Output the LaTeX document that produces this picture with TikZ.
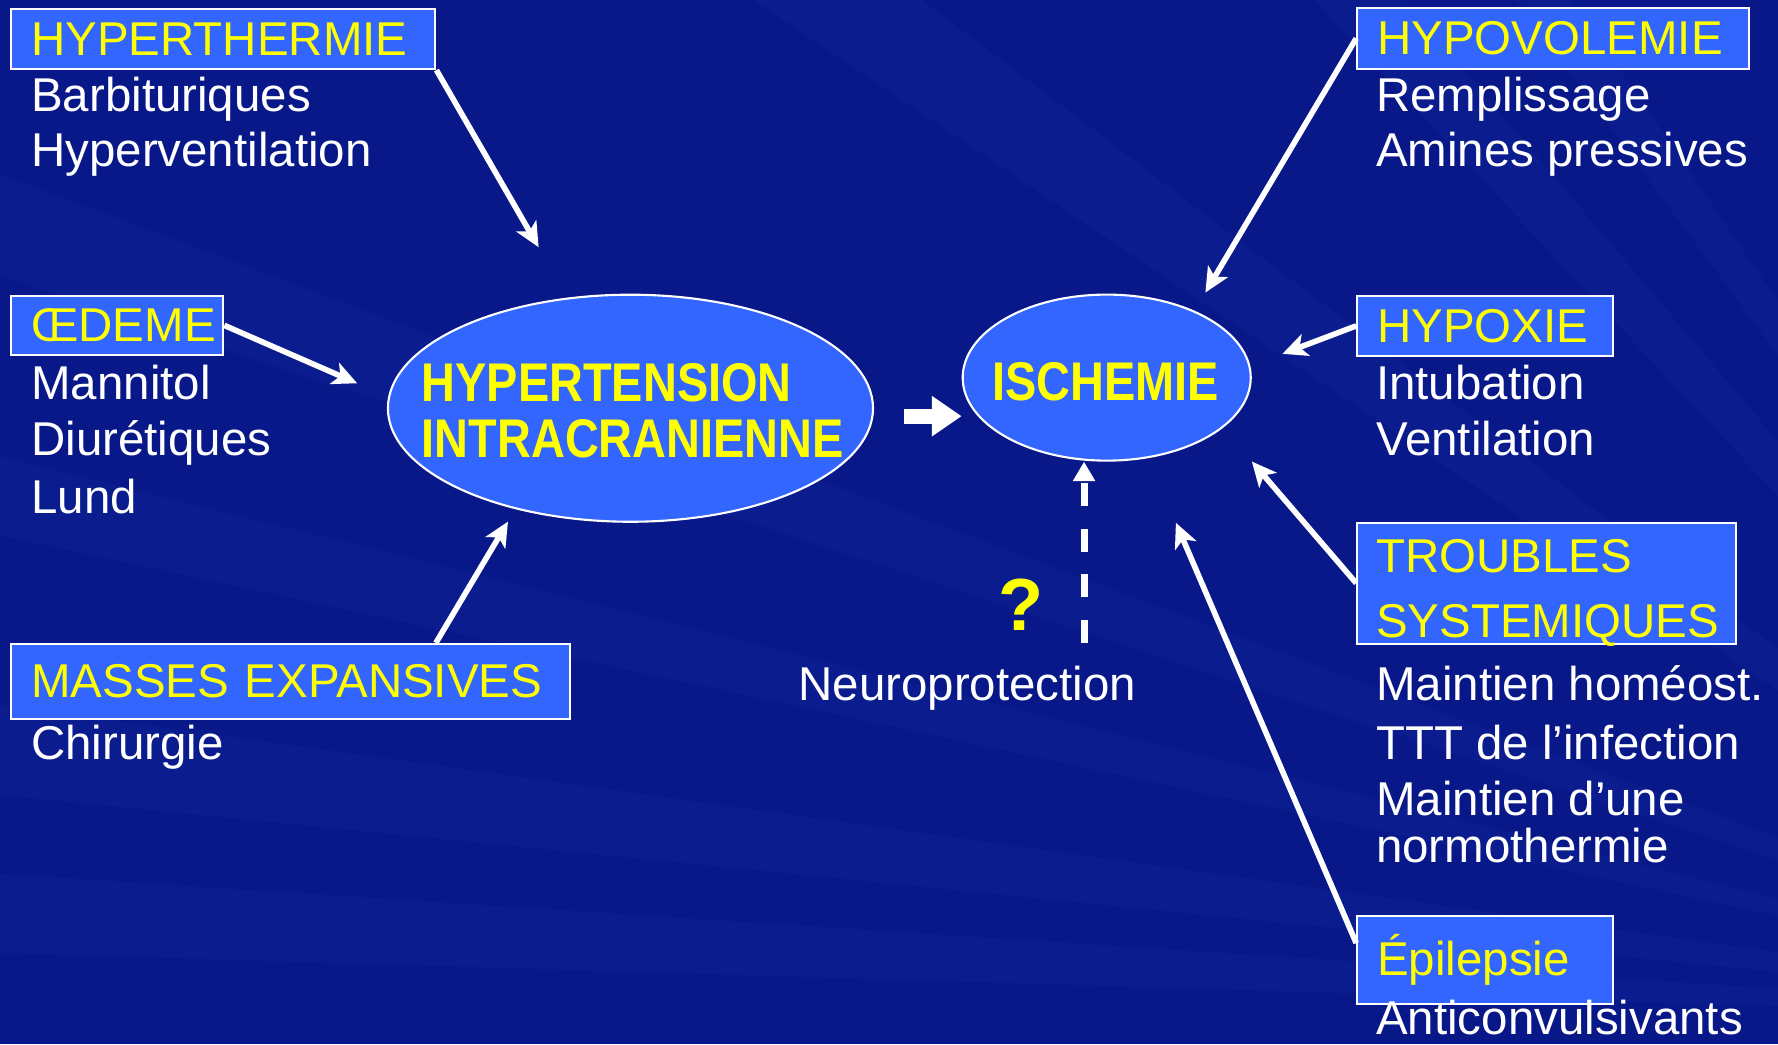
\documentclass[tikz,border=0pt]{standalone}
\usepackage{fontspec}
\setmainfont{Liberation Sans}
\newfontfamily\narrowfont[FakeStretch=0.86]{Liberation Sans}
\usetikzlibrary{shapes.geometric,arrows.meta,positioning}

\definecolor{slidebg}{HTML}{081888}
\definecolor{raylight}{HTML}{3A5AE0}
\definecolor{boxblue}{HTML}{3366FF}
\definecolor{titleyellow}{HTML}{FFFF00}

\tikzset{
  headbox/.style={draw=white, line width=0.6pt, fill=boxblue, text=titleyellow,
    anchor=north west, align=left, inner xsep=0.2cm, inner ysep=0pt,
    font=\fontsize{13.5}{16.1}\selectfont},
  subtext/.style={text=white, anchor=base west, inner sep=0pt,
    font=\fontsize{13.5}{16.1}\selectfont},
  bubble/.style={ellipse, draw=white, line width=0.6pt, fill=boxblue, inner sep=0pt},
  bubbletext/.style={text=titleyellow, align=left, inner sep=0pt,
    font=\narrowfont\bfseries\fontsize{15.5}{15.8}\selectfont},
  arr/.style={white, line width=1.6pt, -{Stealth[length=7pt,width=6.5pt,inset=1.8pt]}},
}

\begin{document}
\begin{tikzpicture}[x=0.011339cm, y=-0.011339cm]
    \useasboundingbox (0,0) rectangle (1568,921);

    % Background
    \fill[slidebg] (0,0) rectangle (1568,921);
    \begin{scope}
        \clip (0,0) rectangle (1568,921);
        \foreach \ya/\yb in {150/240, 400/470, 620/700, 770/840}
            \fill[raylight, opacity=0.08] (2000,900) -- (-10,\ya) -- (-10,\yb) -- cycle;
        \foreach \xa/\xb in {650/800, 1150/1230, 1330/1380}
            \fill[raylight, opacity=0.08] (2000,900) -- (\xa,-10) -- (\xb,-10) -- cycle;
    \end{scope}

    % Left column
    \node[headbox, text width=3.84cm, minimum height=0.6cm] (hyperth) at (9,7) {HYPERTHERMIE};
    \node[subtext] (barbi) at (27,98) {Barbituriques};
    \node[subtext] (hypervent) at (27,147) {Hyperventilation};

    \node[headbox, text width=1.72cm, minimum height=0.59cm] (oedeme) at (9,260) {ŒDEME};
    \node[subtext] (mannitol) at (27,352) {Mannitol};
    \node[subtext] (diuret) at (27,402) {Diurétiques};
    \node[subtext] (lund) at (27,453) {Lund};

    \node[headbox, text width=5.19cm, minimum height=0.75cm] (masses) at (9,567) {MASSES EXPANSIVES};
    \node[subtext] (chir) at (27,670) {Chirurgie};

    % Centre
    \node[bubble, minimum width=4.85cm, minimum height=2.27cm] (htic) at (556,360) {};
    \node[bubbletext] (htictxt) at (558,362) {HYPERTENSION\\INTRACRANIENNE};
    \node[bubble, minimum width=2.88cm, minimum height=1.66cm] (isch) at (976,333) {};
    \node[bubbletext] (ischtxt) at (975,337) {ISCHEMIE};

    \node[text=titleyellow, font=\bfseries\fontsize{21}{21}\selectfont, anchor=base, inner sep=0pt] (quest) at (900,556) {?};
    \node[subtext, anchor=base] (neuro) at (853,618) {Neuroprotection};

    % Right column
    \node[headbox, text width=3.52cm, minimum height=0.61cm] (hypovol) at (1196,6) {HYPOVOLEMIE};
    \node[subtext] (rempl) at (1213,98) {Remplissage};
    \node[subtext] (amines) at (1213,147) {Amines pressives};

    \node[headbox, text width=2.16cm, minimum height=0.6cm] (hypox) at (1196,260) {HYPOXIE};
    \node[subtext] (intub) at (1213,352) {Intubation};
    \node[subtext] (ventil) at (1213,402) {Ventilation};

    \node[headbox, text width=3.39cm, minimum height=1.21cm] (troubles) at (1196,460) {};
    \node[subtext, text=titleyellow] (troubl) at (1213,505) {TROUBLES};
    \node[subtext, text=titleyellow] (systm) at (1213,562) {SYSTEMIQUES};
    \node[subtext] (homeo) at (1213,618) {Maintien homéost.};
    \node[subtext] (infect) at (1213,670) {TTT de l’infection};
    \node[subtext] (maint) at (1213,719) {Maintien d’une};
    \node[subtext] (normo) at (1213,761) {normothermie};

    \node[headbox, text width=2.16cm, minimum height=0.88cm] (epil) at (1196,807) {Épilepsie};
    \node[subtext] (anticonv) at (1213,912) {Anticonvulsivants};

    % Arrow tips
    \coordinate (tipA) at (475,218);
    \coordinate (tipG) at (315,338);
    \coordinate (tipF) at (448,460);
    \coordinate (tipB) at (1063,258);
    \coordinate (tipC) at (1131,312);
    \coordinate (tipD) at (1104,407);
    \coordinate (tipE) at (1037,461);
    \coordinate (fatstart) at (797,367);
    \coordinate (npstart) at (956,567);

    % Arrows
    \draw[arr] (hyperth.south east) -- (tipA);
    \draw[arr] (oedeme.east) -- (tipG);
    \draw[arr] ([xshift=1.45cm]masses.north) -- (tipF);
    \draw[arr] (hypovol.west) -- (tipB);
    \draw[arr] (hypox.west) -- (tipC);
    \draw[arr] (troubles.west) -- (tipD);
    \draw[arr] ([yshift=-0.28cm]epil.north west) -- (tipE);
    \draw[white, line width=4.2pt, -{Triangle[length=8.5pt,width=11pt]}] (fatstart) -- (fatstart -| isch.west);
    \draw[white, line width=2pt, dash pattern=on 6.5pt off 6.5pt, -{Triangle[length=5.5pt,width=6pt]}] (npstart) -- (npstart |- isch.south);
\end{tikzpicture}
\end{document}
